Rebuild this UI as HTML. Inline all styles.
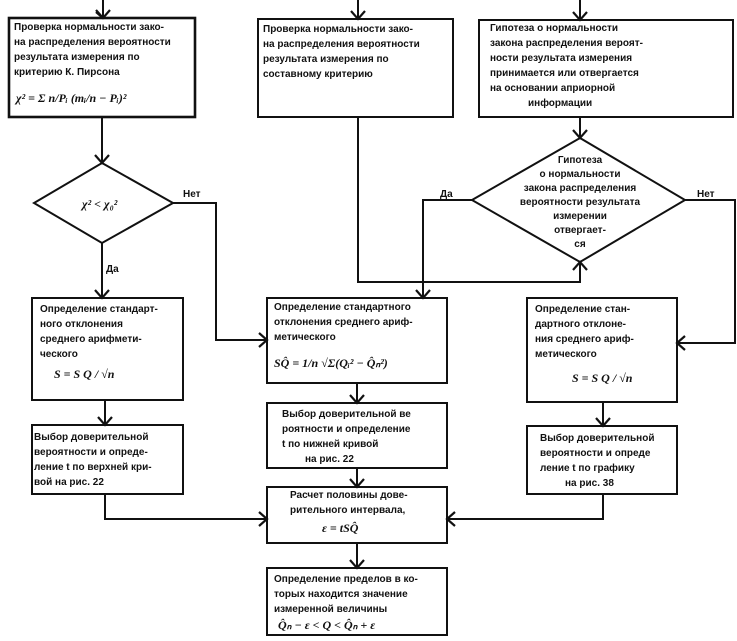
<!DOCTYPE html>
<html><head><meta charset="utf-8"><style>
html,body{margin:0;padding:0;background:#fff;}
svg{display:block;}
text{font-family:"Liberation Sans","DejaVu Sans",sans-serif;font-size:10px;font-weight:bold;fill:#111;}
.f{font-family:"Liberation Serif",serif;font-style:italic;font-size:12px;}
</style></head><body>
<svg width="737" height="641" viewBox="0 0 737 641" xmlns="http://www.w3.org/2000/svg">
<g fill="none" stroke="#111" stroke-width="2">
<!-- boxes -->
<rect x="9" y="18" width="186" height="99" stroke-width="2.6"/>
<rect x="258" y="19" width="195" height="98"/>
<rect x="479" y="20" width="254" height="97"/>
<polygon points="102,163 173,203 102,243 34,203"/>
<polygon points="580,138 685,200 580,262 472,200"/>
<rect x="32" y="298" width="151" height="102"/>
<rect x="32" y="425" width="151" height="69"/>
<rect x="267" y="298" width="180" height="85"/>
<rect x="267" y="403" width="180" height="65"/>
<rect x="267" y="487" width="180" height="56"/>
<rect x="267" y="568" width="180" height="67"/>
<rect x="527" y="298" width="150" height="104"/>
<rect x="527" y="426" width="150" height="68"/>
<!-- connectors -->
<path d="M103 0V18M102 117V163M102 243V298M173 203H216V340H267"/>
<path d="M358 0V19M358 117V282H580V262"/>
<path d="M580 0V20M580 117V138"/>
<path d="M472 200H423V298M685 200H735V343H677"/>
<path d="M357 383V403M357 468V487M357 543V568"/>
<path d="M105 400V425M105 494V519H267M603 402V426M603 494V519H447"/>
<!-- arrowheads -->
<g stroke-width="2.2">
<path d="M96 10L103 18L110 10M96 12L103 18"/>
<path d="M351 11L358 19L365 11"/>
<path d="M573 12L580 20L587 12"/>
<path d="M95 155L102 163L109 155"/>
<path d="M573 130L580 138L587 130"/>
<path d="M573 270L580 262L587 270"/>
<path d="M95 290L102 298L109 290"/>
<path d="M416 290L423 298L430 290"/>
<path d="M259 333L267 340L259 347"/>
<path d="M685 336L677 343L685 350"/>
<path d="M98 417L105 425L112 417"/>
<path d="M596 418L603 426L610 418"/>
<path d="M350 395L357 403L364 395"/>
<path d="M350 479L357 487L364 479"/>
<path d="M350 560L357 568L364 560"/>
<path d="M259 512L267 519L259 526"/>
<path d="M455 512L447 519L455 526"/>
</g>
</g>
<!-- text -->
<text x="14" y="30">Проверка нормальности зако-</text>
<text x="14" y="45">на распределения вероятности</text>
<text x="14" y="60">результата измерения по</text>
<text x="14" y="75">критерию  К. Пирсона</text>
<text class="f" x="16" y="102">χ² = Σ n/Pᵢ (mᵢ/n − Pᵢ)²</text>

<text x="263" y="32">Проверка нормальности зако-</text>
<text x="263" y="47">на распределения вероятности</text>
<text x="263" y="62">результата измерения по</text>
<text x="263" y="77">составному критерию</text>

<text x="490" y="31">Гипотеза о нормальности</text>
<text x="490" y="46">закона распределения вероят-</text>
<text x="490" y="61">ности результата измерения</text>
<text x="490" y="76">принимается или отвергается</text>
<text x="490" y="91">на основании априорной</text>
<text x="528" y="106">информации</text>

<text class="f" x="82" y="208">χ² &lt; χ₀²</text>
<text x="183" y="197">Нет</text>
<text x="106" y="272">Да</text>
<text x="440" y="197">Да</text>
<text x="697" y="197">Нет</text>

<g text-anchor="middle">
<text x="580" y="163">Гипотеза</text>
<text x="580" y="177">о нормальности</text>
<text x="580" y="191">закона распределения</text>
<text x="580" y="205">вероятности результата</text>
<text x="580" y="219">измерении</text>
<text x="580" y="233">отвергает-</text>
<text x="580" y="247">ся</text>
</g>

<text x="40" y="312">Определение стандарт-</text>
<text x="40" y="327">ного отклонения</text>
<text x="40" y="342">среднего арифмети-</text>
<text x="40" y="357">ческого</text>
<text class="f" x="54" y="378">S = S Q / √n</text>

<text x="274" y="310">Определение стандартного</text>
<text x="274" y="325">отклонения среднего ариф-</text>
<text x="274" y="340">метического</text>
<text class="f" x="274" y="367">SQ̂ = 1/n √Σ(Qᵢ² − Q̂ₙ²)</text>

<text x="535" y="312">Определение стан-</text>
<text x="535" y="327">дартного отклоне-</text>
<text x="535" y="342">ния среднего ариф-</text>
<text x="535" y="357">метического</text>
<text class="f" x="572" y="382">S = S Q / √n</text>

<text x="34" y="440">Выбор доверительной</text>
<text x="34" y="455">вероятности и опреде-</text>
<text x="34" y="470">ление  t  по верхней кри-</text>
<text x="34" y="485">вой  на рис. 22</text>

<text x="282" y="417">Выбор доверительной ве</text>
<text x="282" y="432">роятности и определение</text>
<text x="282" y="447">t  по нижней кривой</text>
<text x="305" y="462">на рис. 22</text>

<text x="540" y="441">Выбор доверительной</text>
<text x="540" y="456">вероятности и опреде</text>
<text x="540" y="471">ление  t  по графику</text>
<text x="565" y="486">на рис. 38</text>

<text x="290" y="498">Расчет половины дове-</text>
<text x="290" y="513">рительного интервала,</text>
<text class="f" x="322" y="532">ε = tSQ̂</text>

<text x="274" y="582">Определение  пределов в ко-</text>
<text x="274" y="597">торых находится значение</text>
<text x="274" y="612">измеренной величины</text>
<text class="f" x="278" y="629">Q̂ₙ − ε &lt; Q &lt; Q̂ₙ + ε</text>
</svg>
</body></html>
